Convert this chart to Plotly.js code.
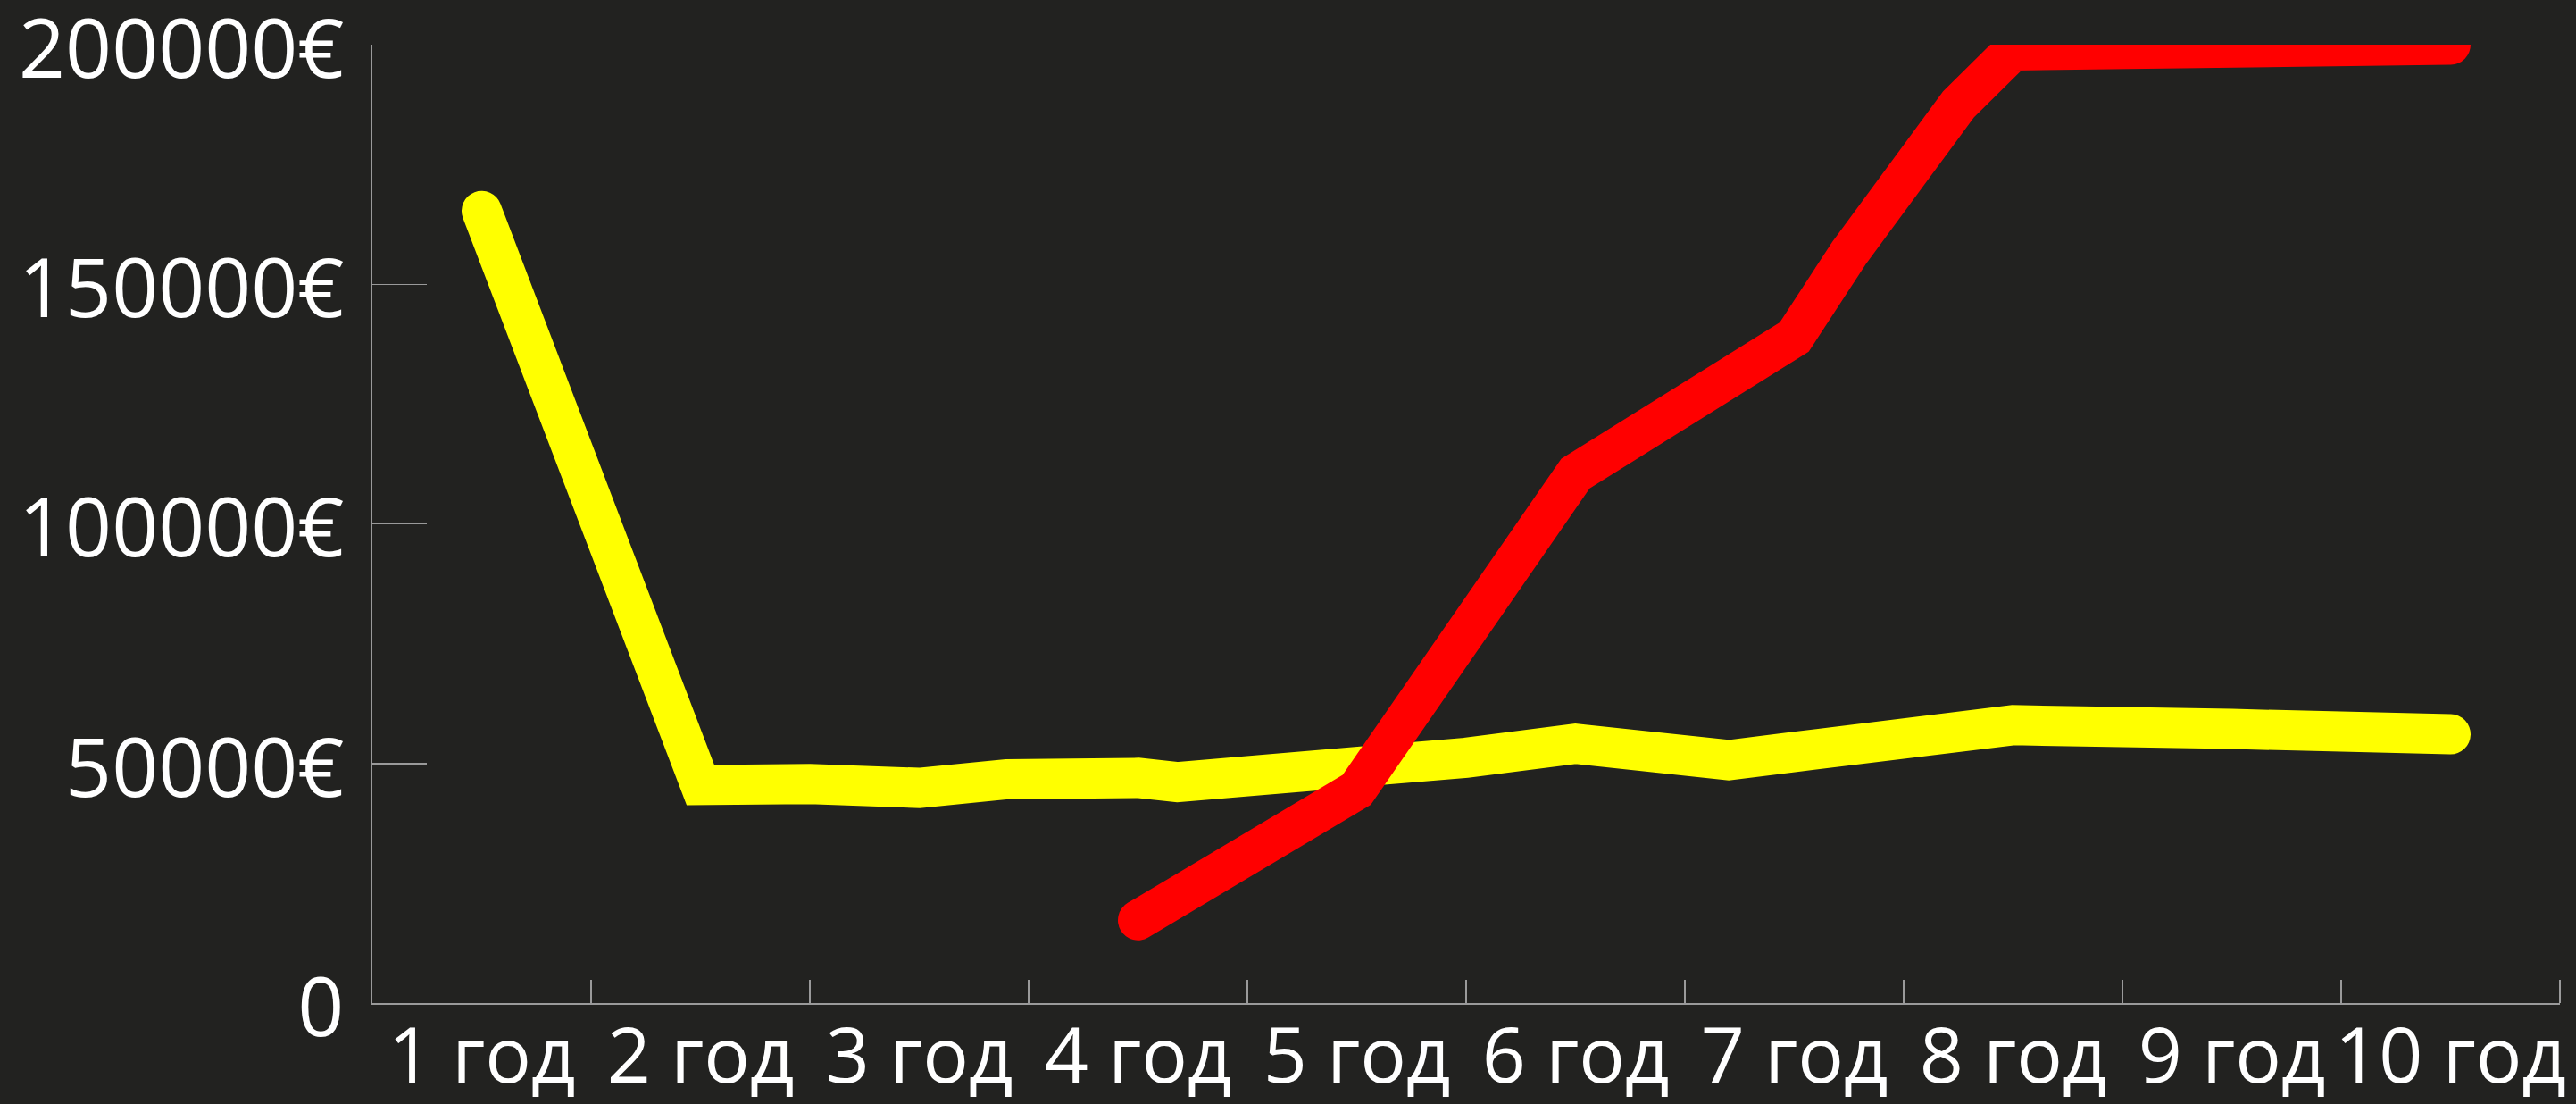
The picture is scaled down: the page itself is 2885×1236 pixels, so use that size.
<!DOCTYPE html>
<html>
<head>
<meta charset="utf-8">
<script src="https://cdn.plot.ly/plotly-3.0.1.min.js"></script>
<style>
  html, body { margin: 0; padding: 0; background: #222220; }
  #chart { width: 2885px; height: 1236px; }
</style>
</head>
<body>
<div id="chart"></div>
<script>
// Category labels (one per year) and their positions on the axis
const years = ['1 год', '2 год', '3 год', '4 год', '5 год', '6 год', '7 год', '8 год', '9 год', '10 год'];
const yearPos = [1, 2, 3, 4, 5, 6, 7, 8, 9, 10];

// Y tick values and labels
const yTickVals = [0, 50000, 100000, 150000, 200000];
const yTickText = ['0', '50000€', '100000€', '150000€', '200000€'];

// Yellow series (x in year units)
const yellowX = [1, 2, 2.5, 3, 3.4, 3.78, 4, 4.18, 4.6, 5, 5.5, 6, 6.35, 6.7, 7, 7.5, 8, 9, 10];
const yellowY = [165300, 45500, 45700, 44900, 46700, 48100, 47000, 46100, 47300, 48600, 51200, 54100, 51600, 50700, 52400, 55500, 58000, 57200, 56100];

// Red series
const redX = [4, 5, 6, 6.5, 7, 7.25, 7.5, 7.75, 8, 8.5, 9, 9.3, 10];
const redY = [17300, 44500, 110500, 125500, 139000, 156500, 171500, 187500, 198800, 199300, 198900, 198600, 200000];

const axisGrey = '#9a9a9a';
const fontFamily = '"Open Sans", "Noto Sans", sans-serif';

const traces = [
  { x: yellowX, y: yellowY, type: 'scatter', mode: 'lines',
    line: { color: '#ffff00', width: 45, shape: 'linear' }, hoverinfo: 'skip' },
  { x: redX, y: redY, type: 'scatter', mode: 'lines',
    line: { color: '#ff0000', width: 45, shape: 'linear' }, hoverinfo: 'skip' }
];

const layout = {
  width: 2885, height: 1236,
  paper_bgcolor: '#222220', plot_bgcolor: '#222220',
  margin: { l: 417, r: 18, t: 50, b: 113, pad: 0 },
  showlegend: false,
  xaxis: {
    range: [0.5, 10.5],
    tickmode: 'array', tickvals: yearPos, ticktext: years,
    ticks: '', tickangle: 0,
    tickfont: { family: fontFamily, size: 86, color: '#ffffff' },
    showline: true, linecolor: axisGrey, linewidth: 1.5,
    showgrid: false, zeroline: false,
    minor: { tickmode: 'array', tickvals: yearPos.map(v => v + 0.5),
             ticks: 'inside', ticklen: 26, tickwidth: 1.5, tickcolor: axisGrey, showgrid: false },
    ticklabelstandoff: -16,
    ticklabeloverflow: 'allow'
  },
  yaxis: {
    range: [0, 200000],
    tickmode: 'array', tickvals: yTickVals, ticktext: yTickText,
    ticks: 'inside', ticklen: 61, tickwidth: 1.5, tickcolor: axisGrey,
    tickfont: { family: fontFamily, size: 91, color: '#ffffff' },
    showline: true, linecolor: axisGrey, linewidth: 1.5,
    showgrid: false, zeroline: false,
    ticklabelstandoff: 12,
    ticklabeloverflow: 'allow'
  }
};

Plotly.newPlot('chart', traces, layout, { staticPlot: true }).then(() => {
  // let thick lines extend past the plot edges, with rounded ends like the reference
  document.querySelectorAll('.cartesianlayer .plot').forEach(g => g.removeAttribute('clip-path'));
  document.querySelectorAll('.scatterlayer .js-line').forEach(p => {
    p.style.strokeLinecap = 'round';
    p.style.strokeLinejoin = 'miter';
  });
  // y labels sit a little below their ticks in the reference (move text only)
  document.querySelectorAll('.yaxislayer-above .ytick text').forEach(t => {
    const tr = t.getAttribute('transform') || '';
    t.setAttribute('transform', tr + ' translate(0,5)');
  });
});
</script>
</body>
</html>
